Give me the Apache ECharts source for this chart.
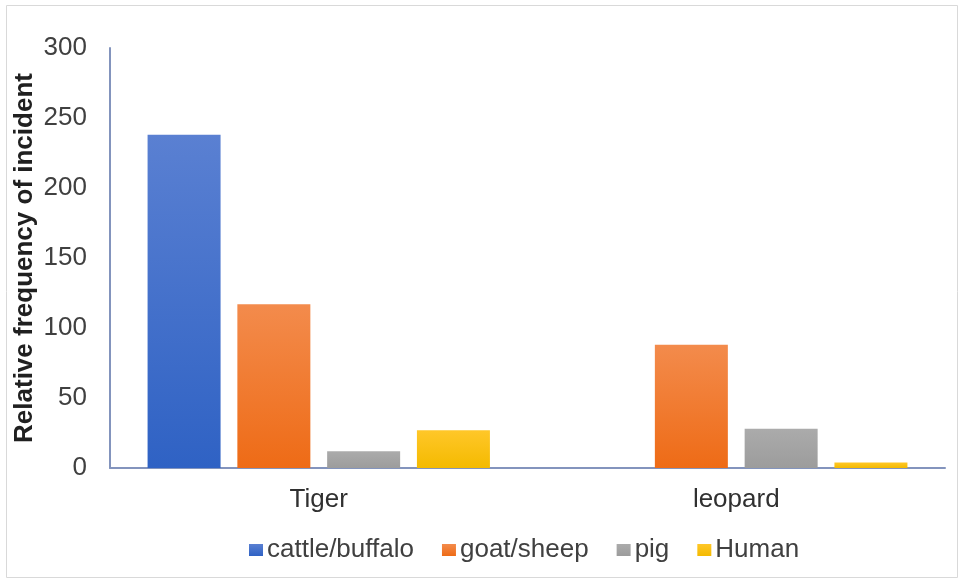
<!DOCTYPE html>
<html>
<head>
<meta charset="utf-8">
<script src="https://cdn.jsdelivr.net/npm/echarts@6/dist/echarts.min.js"></script>
<style>
  html, body { margin: 0; padding: 0; background: #fff; }
  #chart { width: 959px; height: 581px; }
</style>
</head>
<body>
<div id="chart"></div>
<script>
  // data
  var categories = ["Tiger", "leopard"];
  var seriesNames = ["cattle/buffalo", "goat/sheep", "pig", "Human"];
  var cattle = [238, 0];
  var goat = [117, 88];
  var pig = [12, 28];
  var human = [27, 4];

  // top/bottom colours of each bar's gradient
  var colors = [
    ["#5a80d2", "#2f62c4"],
    ["#f38b4c", "#ee6b16"],
    ["#ababab", "#9c9c9c"],
    ["#ffc729", "#f4ba00"]
  ];

  function grad(c) {
    return new echarts.graphic.LinearGradient(0, 0, 0, 1, [
      { offset: 0, color: c[0] },
      { offset: 1, color: c[1] }
    ]);
  }

  var values = [cattle, goat, pig, human];
  var series = seriesNames.map(function (name, i) {
    return {
      name: name,
      type: "bar",
      data: values[i],
      barGap: "23%",
      barCategoryGap: "18%",
      itemStyle: { color: grad(colors[i]) }
    };
  });

  var chart = echarts.init(document.getElementById("chart"));
  chart.setOption({
    animation: false,
    textStyle: { fontFamily: "Liberation Sans, Arial, sans-serif" },
    color: colors.map(function (c) { return c[1]; }),
    graphic: [{
      type: "rect",
      shape: { x: 6.5, y: 5.5, width: 951, height: 572 },
      style: { fill: null, stroke: "#d9d9d9", lineWidth: 1 }
    }],
    grid: { left: 110, right: 14, top: 48, bottom: 113 },
    legend: {
      bottom: 13,
      left: 244,
      itemWidth: 14,
      itemHeight: 12,
      itemGap: 28,
      icon: "rect",
      textStyle: { fontSize: 26, color: "#404040", padding: [0, 0, 0, -1] },
      data: seriesNames
    },
    xAxis: {
      type: "category",
      data: categories,
      axisLine: { lineStyle: { color: "#8394bd", width: 2 } },
      axisTick: { show: false },
      axisLabel: { fontSize: 26, color: "#303030", margin: 19 }
    },
    yAxis: {
      type: "value",
      min: 0,
      max: 300,
      interval: 50,
      name: "Relative frequency of incident",
      nameLocation: "middle",
      nameGap: 72,
      nameMoveOverlap: false,
      nameTextStyle: { fontSize: 26, fontWeight: "bold", color: "#202020" },
      axisLine: { show: true, lineStyle: { color: "#8394bd", width: 2 } },
      axisTick: { show: false },
      splitLine: { show: false },
      axisLabel: { fontSize: 26, color: "#404040", margin: 23 }
    },
    series: series
  });
</script>
</body>
</html>
